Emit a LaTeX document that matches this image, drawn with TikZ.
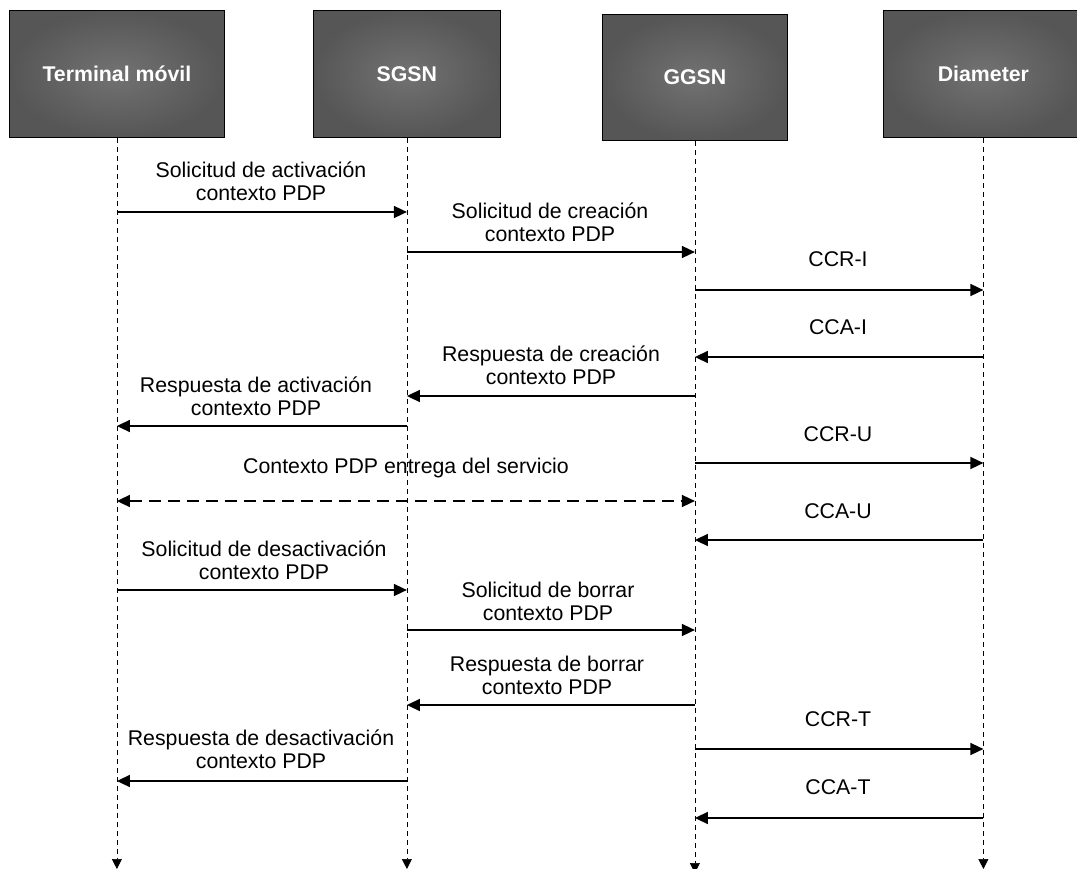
\documentclass[tikz,border=0pt]{standalone}
\usepackage{fontspec}
\setmainfont{Liberation Sans}
\usetikzlibrary{arrows.meta}
\definecolor{boxouter}{RGB}{86,86,86}
\definecolor{boxinner}{RGB}{114,114,114}
\tikzset{
  entity/.style={draw=black, line width=0.8pt, inner color=boxinner, outer color=boxouter,
    text=white, font=\bfseries\fontsize{21.3}{24}\selectfont, anchor=north west, inner sep=0pt},
  lifeline/.style={draw=black, line width=0.7pt, dash pattern=on 5pt off 4pt,
    -{Triangle[length=10pt,width=10pt]}},
  msgarrow/.style={line width=1.6pt, -{Triangle[length=13pt,width=12pt]}},
  flowarrow/.style={line width=1.6pt, dash pattern=on 12pt off 7pt,
    {Triangle[length=13pt,width=12pt]}-{Triangle[length=13pt,width=12pt]}},
  msglabel/.style={font=\fontsize{21.3}{23}\selectfont, align=center, inner sep=0pt, anchor=south},
}
\begin{document}
\begin{tikzpicture}[x=1pt, y=-1pt]
  \useasboundingbox (0,0) rectangle (1077,869);
  \clip (0,0) rectangle (1077,869);

  % participants
  \node[entity, minimum width=215pt, minimum height=127pt] (T) at (9,10)   {Terminal móvil};
  \node[entity, minimum width=187pt, minimum height=127pt] (S) at (313,10) {SGSN};
  \node[entity, minimum width=185pt, minimum height=126pt] (G) at (602,14) {GGSN};
  \node[entity, minimum width=200pt, minimum height=127pt] (D) at (883,10) {Diameter};

  % lifelines
  \coordinate (Tend) at (T.south |- 0,869);
  \coordinate (Send) at (S.south |- 0,869);
  \coordinate (Gend) at (G.south |- 0,873);
  \coordinate (Dend) at (D.south |- 0,869);
  \draw[lifeline] (T.south) -- (Tend);
  \draw[lifeline] (S.south) -- (Send);
  \draw[lifeline] (G.south) -- (Gend);
  \draw[lifeline] (D.south) -- (Dend);

  % messages
  \node[msglabel] (m1) at (261,200.5) {Solicitud de activación\\contexto PDP};
  \draw[msgarrow] (T.south |- 0,212) -- (S.south |- 0,212);

  \node[msglabel] (m2) at (550,241.5) {Solicitud de creación\\contexto PDP};
  \draw[msgarrow] (S.south |- 0,252) -- (G.south |- 0,252);

  \node[msglabel] (m3) at (838,267) {CCR-I};
  \draw[msgarrow] (G.south |- 0,290) -- (D.south |- 0,290);

  \node[msglabel] (m4) at (838,335) {CCA-I};
  \draw[msgarrow] (D.south |- 0,357) -- (G.south |- 0,357);

  \node[msglabel] (m5) at (551,384.5) {Respuesta de creación\\contexto PDP};
  \draw[msgarrow] (G.south |- 0,396) -- (S.south |- 0,396);

  \node[msglabel] (m6) at (256,415.5) {Respuesta de activación\\contexto PDP};
  \draw[msgarrow] (S.south |- 0,426) -- (T.south |- 0,426);

  \node[msglabel] (m7) at (838,441.5) {CCR-U};
  \draw[msgarrow] (G.south |- 0,463) -- (D.south |- 0,463);

  \node[msglabel] (m8) at (406,478) {Contexto PDP entrega del servicio};
  \draw[flowarrow] (T.south |- 0,501) -- (G.south |- 0,501);

  \node[msglabel] (m9) at (838,518.5) {CCA-U};
  \draw[msgarrow] (D.south |- 0,540) -- (G.south |- 0,540);

  \node[msglabel] (m10) at (264,579.5) {Solicitud de desactivación\\contexto PDP};
  \draw[msgarrow] (T.south |- 0,590) -- (S.south |- 0,590);

  \node[msglabel] (m11) at (548,620.5) {Solicitud de borrar\\contexto PDP};
  \draw[msgarrow] (S.south |- 0,630) -- (G.south |- 0,630);

  \node[msglabel] (m12) at (547,694.5) {Respuesta de borrar\\contexto PDP};
  \draw[msgarrow] (G.south |- 0,705) -- (S.south |- 0,705);

  \node[msglabel] (m13) at (838,726.5) {CCR-T};
  \draw[msgarrow] (G.south |- 0,749) -- (D.south |- 0,749);

  \node[msglabel] (m14) at (261,768.5) {Respuesta de desactivación\\contexto PDP};
  \draw[msgarrow] (S.south |- 0,781) -- (T.south |- 0,781);

  \node[msglabel] (m15) at (838,794.5) {CCA-T};
  \draw[msgarrow] (D.south |- 0,818) -- (G.south |- 0,818);
\end{tikzpicture}
\end{document}
